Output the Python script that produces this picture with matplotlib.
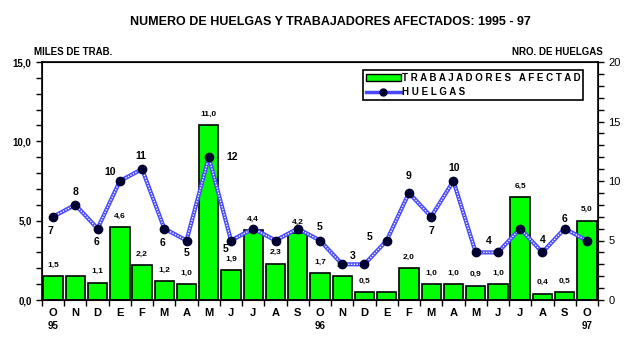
import numpy as np
import matplotlib.pyplot as plt
from matplotlib.ticker import MultipleLocator, FixedLocator
from matplotlib.lines import Line2D
from matplotlib.patches import Patch

meses = ['O', 'N', 'D', 'E', 'F', 'M', 'A', 'M', 'J', 'J', 'A', 'S',
         'O', 'N', 'D', 'E', 'F', 'M', 'A', 'M', 'J', 'J', 'A', 'S', 'O']
anios = {0: '95', 12: '96', 24: '97'}

# miles de trabajadores afectados
trab = [1.5, 1.5, 1.1, 4.6, 2.2, 1.2, 1.0, 11.0, 1.9, 4.4, 2.3, 4.2,
        1.7, 1.5, 0.5, 0.5, 2.0, 1.0, 1.0, 0.9, 1.0, 6.5, 0.4, 0.5, 5.0]
trab_sin_rotulo = [1, 15]

# numero de huelgas
huelgas = [7, 8, 6, 10, 11, 6, 5, 12, 5, 6, 5, 6,
           5, 3, 3, 5, 9, 7, 10, 4, 4, 6, 4, 6, 5]
# desplazamiento del rotulo (px) de cada punto, None = sin rotulo
desp = [(-3, -14), (0, 13), (-1, -13), (-10, 9), (-1, 13), (-2, -14), (0, -13),
        (23, 0), (-5, -8), None, None, None,
        (0, 13), (10, 8), None, (-17, 4), (0, 17), (0, -14), (1, 13), (13, 11),
        None, None, (0, 12), (0, 10), None]

plt.rcParams['font.family'] = ['Liberation Sans', 'DejaVu Sans']

fig = plt.figure(figsize=(6.29, 3.48), dpi=100)
ax = fig.add_axes([42 / 629, 1 - 300 / 348, 556 / 629, 238 / 348])
ax2 = ax.twinx()
ax.set_zorder(ax2.get_zorder() - 1)
ax.patch.set_visible(True)
ax2.patch.set_visible(False)

x = np.arange(len(meses))
ax.bar(x, trab, width=0.87, color='#00ff00', edgecolor='black', linewidth=1.2)
for i, v in enumerate(trab):
    if i in trab_sin_rotulo:
        continue
    ax.annotate(f'{v:.1f}'.replace('.', ','), (i, v), xytext=(0, 11),
                textcoords='offset pixels', ha='center', va='center',
                fontsize=6, fontweight='bold')

ax2.plot(x, huelgas, color='#4848ff', lw=3, zorder=3)
ax2.plot(x, huelgas, color='white', lw=1, ls=(0, (1, 1)), zorder=4)
ax2.plot(x, huelgas, ls='none', marker='o', ms=6, color='#000030', zorder=5)
for i, v in enumerate(huelgas):
    if desp[i] is None:
        continue
    ax2.annotate(str(v), (i, v), xytext=desp[i], textcoords='offset pixels',
                 ha='center', va='center', fontsize=7.5, fontweight='bold')

ax.set_xlim(-0.5, len(meses) - 0.5)
ax.set_ylim(0, 15)
ax2.set_ylim(0, 20)

ax.yaxis.set_major_locator(MultipleLocator(5))
ax.yaxis.set_minor_locator(MultipleLocator(1))
ax.set_yticks([0, 5, 10, 15])
ax.set_yticklabels(['0,0', '5,0', '10,0', '15,0'], fontsize=7, fontweight='bold')
ax.tick_params(axis='y', which='both', direction='out', length=4, width=1)
ax2.yaxis.set_major_locator(MultipleLocator(5))
ax2.yaxis.set_minor_locator(MultipleLocator(1))
ax2.tick_params(axis='y', which='both', direction='out', length=4, width=1,
                labelsize=8)

ax.xaxis.set_major_locator(FixedLocator(np.arange(-0.5, len(meses), 1)))
ax.set_xticklabels([])
ax.tick_params(axis='x', direction='out', length=4, width=1)
for i, m in enumerate(meses):
    ax.text(i, -0.055, m, transform=ax.get_xaxis_transform(), ha='center',
            va='center', fontsize=8, fontweight='bold')
    if i in anios:
        ax.text(i, -0.11, anios[i], transform=ax.get_xaxis_transform(),
                ha='center', va='center', fontsize=7, fontweight='bold')

for s in ax2.spines.values():
    s.set_linewidth(1.2)

fig.text(330 / 629, 1 - 22 / 348,
         'NUMERO DE HUELGAS Y TRABAJADORES AFECTADOS: 1995 - 97',
         ha='center', va='center', fontsize=9, fontweight='bold')
fig.text(34 / 629, 1 - 52 / 348, 'MILES DE TRAB.', ha='left', va='center',
         fontsize=7, fontweight='bold')
fig.text(603 / 629, 1 - 52 / 348, 'NRO. DE HUELGAS', ha='right', va='center',
         fontsize=7, fontweight='bold')

handles = [Patch(facecolor='#00ff00', edgecolor='black'),
           Line2D([], [], color='#4848ff', lw=2.5, marker='o', ms=5,
                  mfc='#000030', mec='#000030')]
leg = ax2.legend(handles, ['T R A B A J A D O R E S   A F E C T A D',
                           'H U E L G A S'],
                 loc='upper left', bbox_to_anchor=((363 - 42) / 556, 1 - 8 / 238),
                 frameon=True, fancybox=False, edgecolor='black', framealpha=1,
                 prop={'size': 7, 'weight': 'bold'}, handlelength=3.6,
                 handleheight=0.6, borderpad=0.3, labelspacing=0.4,
                 handletextpad=0.1, borderaxespad=0)
leg.get_frame().set_linewidth(1.2)

plt.savefig('out.png', dpi=100)
